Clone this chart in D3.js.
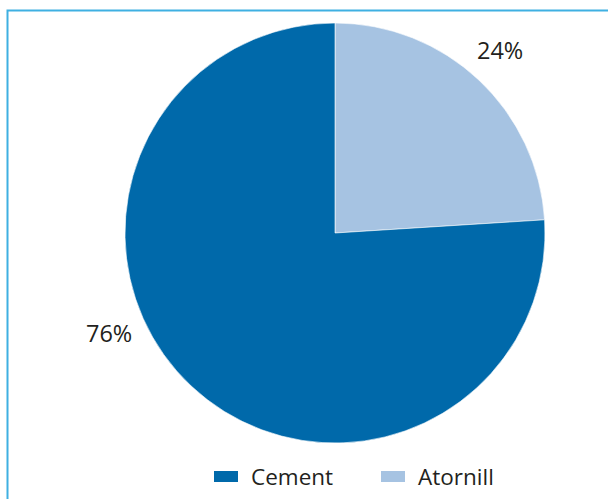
<!DOCTYPE html>
<html><head><meta charset="utf-8">
<script src="https://cdn.jsdelivr.net/npm/d3@7"></script>
<style>html,body{margin:0;padding:0;background:#fff;}svg{display:block;}</style>
</head><body>
<svg id="c" width="608" height="499"></svg>
<script>
const categories = ["Atornill", "Cement"];
const values = [24, 76];
const labels = ["24%", "76%"];
const legendOrder = ["Cement", "Atornill"];

const colors = d3.scaleOrdinal().domain(categories).range(["#a6c3e2", "#0069aa"]);
const svg = d3.select("#c");
const font = "'Open Sans', sans-serif";

// frame
svg.append("path").attr("d", "M7.5,499 V10.5 H608").attr("fill","none")
  .attr("stroke","#3fb0e2").attr("stroke-width",2);

const cx = 335, cy = 233, r = 210;
const pie = d3.pie().sort(null).value(d => d.v);
const arcs = pie(categories.map((c,i)=>({c, v: values[i], l: labels[i]})));
const arc = d3.arc().innerRadius(0).outerRadius(r);
const g = svg.append("g").attr("transform", `translate(${cx},${cy})`);
g.selectAll("path").data(arcs).join("path")
  .attr("d", arc).attr("fill", d => colors(d.data.c))
  .attr("stroke","#fff").attr("stroke-width",0.6);

const labelPos = {"Atornill":[477,59], "Cement":[86,342]};
svg.selectAll("text.lbl").data(arcs).join("text").attr("class","lbl")
  .attr("x", d => labelPos[d.data.c][0]).attr("y", d => labelPos[d.data.c][1])
  .attr("font-family", font).attr("font-size", 23.5).attr("fill","#231f20")
  .text(d => d.data.l);

const legX = [214, 381];
const lg = svg.selectAll("g.leg").data(legendOrder).join("g").attr("class","leg")
  .attr("transform",(d,i)=>`translate(${legX[i]},471)`);
lg.append("rect").attr("width",24).attr("height",11).attr("fill", d=>colors(d));
lg.append("text").attr("x",37).attr("y",14).attr("font-family",font)
  .attr("font-size",22.5).attr("fill","#231f20").text(d=>d);
</script>
</body></html>
